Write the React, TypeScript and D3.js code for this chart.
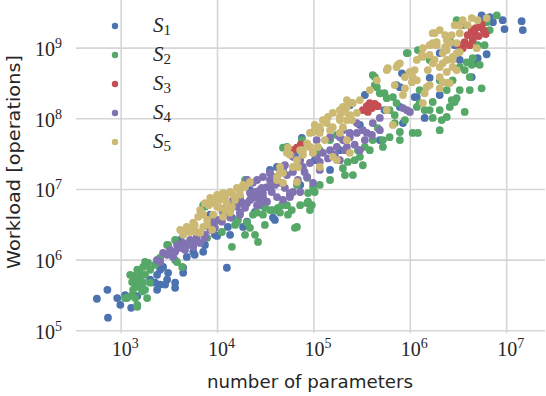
import React from 'react';
import * as d3 from 'd3';

const width = 546;
const height = 396;
const plot = { left: 76, right: 545, top: 0, bottom: 333 };

const seriesNames = ['1', '2', '3', '4', '5'];
const colors = ['#4C72B0', '#55A868', '#C44E52', '#8172B2', '#CCB974'];
const xTicks = [1e3, 1e4, 1e5, 1e6, 1e7];
const yTicks = [1e5, 1e6, 1e7, 1e8, 1e9];

// [number of parameters, workload]
const s1Points: [number, number][] = [
  [5.6e2, 2.84e5], [7.2e2, 3.8e5], [7.3e2, 1.53e5], [9.1e2, 2.9e5], [9.8e2, 2.33e5], [1.27e3, 2.11e5],
  [1.47e3, 3.1e5], [2.0e3, 5.3e5], [2.36e3, 6.2e5], [2.54e3, 7.3e5], [2.72e3, 8.0e5], [3.0e3, 5.3e5],
  [3.63e3, 4.8e5], [3.63e3, 4.05e5], [4.4e3, 7.8e5], [4.4e3, 6.6e5], [4.8e3, 1.11e6], [5.6e3, 1.31e6],
  [5.8e3, 1.19e6], [7.1e3, 1.31e6], [7.4e3, 1.64e6], [9.4e3, 2.28e6], [2.36e3, 3.8e5], [2.54e3, 4.5e5],
  [2.86e3, 4.5e5], [2.25e3, 4.8e5], [3.07e3, 6.6e5], [1.25e4, 7.8e5], [9.9e3, 2.2e6], [1.28e4, 2.95e6],
  [1.35e4, 2.28e6], [1.84e4, 2.95e6], [2.02e4, 3.5e6], [1.41e4, 4.0e6], [2.45e4, 4.8e6], [2.89e4, 6.0e6],
  [3.94e4, 3.7e6], [4.14e4, 5.1e6], [3.5e4, 1.89e7], [4.78e4, 1.89e7], [4.14e4, 2.08e7], [3.76e4, 4.0e6],
  [5.64e4, 8.4e6], [7.2e4, 1.16e7], [7.5e4, 5.35e7], [1.02e5, 2.6e7], [1.47e5, 1.89e7], [1.86e5, 3.6e7],
  [2.36e5, 1.56e8], [2.48e5, 1.67e8], [3.0e5, 8.2e7], [4.83e5, 5.0e7], [7.2e5, 3.0e8], [7.8e5, 2.8e8],
  [8.2e5, 4.4e8], [1.11e6, 2.03e8], [8.4e5, 8.7e7], [1.41e6, 1.03e8], [1.17e6, 2.03e8], [1.59e6, 3.8e8],
  [7.8e5, 1.47e8], [2.02e6, 8.5e8], [4.34e6, 3.9e8], [4.66e6, 6.1e8], [5.0e6, 7.2e8], [6.2e6, 8.2e8],
  [5.64e6, 2.75e9], [7.2e6, 2.33e9], [5.5e6, 2.9e9], [6.67e6, 2.75e9], [9.1e6, 2.49e9], [9.5e6, 1.86e9],
  [1.43e7, 2.41e9], [1.47e7, 1.8e9], [2.89e6, 1.1e9], [3.26e6, 6.8e8], [2.02e6, 2.17e8], [5.4e5, 1.33e8],
  [3.38e5, 2.17e8], [1.15e5, 6.9e7], [6.35e4, 3.1e7], [2.17e4, 9.8e6], [1.71e4, 7.1e6], [8.4e3, 4.4e6],
  [4.1e3, 1.93e6], [1.57e3, 4.5e5], [1.1e3, 3.2e5],
];

const s2Points: [number, number][] = [
  [1.24e3, 6.2e5], [1.3e3, 4.9e5], [1.47e3, 7.3e5], [1.57e3, 6.6e5], [1.5e3, 4.2e5], [1.69e3, 4.8e5],
  [1.77e3, 3.8e5], [1.4e3, 2.9e5], [1.15e3, 2.9e5], [1.47e3, 2.33e5], [1.86e3, 2.9e5], [1.9e3, 9.1e5],
  [1.77e3, 9.4e5], [1.57e3, 5.8e5], [1.3e3, 3.2e5], [1.65e3, 3.6e5], [1.33e3, 6.0e5], [1.18e3, 3.0e5],
  [1.1e3, 2.9e5], [1.47e3, 2.18e5], [2.0e3, 4.8e5], [2.36e3, 1.0e6], [1.69e3, 8.0e5], [1.86e3, 9.1e5],
  [3.0e3, 1.64e6], [3.63e3, 1.0e6], [4.3e3, 8.0e5], [3.8e3, 9.4e5], [1.5e3, 5.3e5], [1.33e3, 3.8e5],
  [1.4e3, 4.5e5], [1.77e3, 6.2e5], [2.0e3, 7.3e5], [2.25e3, 8.6e5], [2.54e3, 1.08e6],
  [3.07e3, 1.64e6], [3.63e3, 1.93e6], [7.8e3, 2.07e6], [1.11e4, 2.5e6], [1.41e4, 1.54e6], [1.63e4, 3.7e6],
  [2.02e4, 3.4e6], [2.17e4, 2.86e6], [2.45e4, 2.28e6], [2.57e4, 4.7e6], [2.96e4, 4.4e6], [3.1e4, 5.5e6],
  [4.24e4, 5.5e6], [2.02e4, 1.36e7], [7.1e3, 6.0e6], [1.59e4, 3.5e6], [2.63e4, 1.81e6], [4.66e4, 6.0e6],
  [5.38e4, 4.4e6], [6.35e4, 2.86e6], [7.2e4, 6.0e6], [8.5e4, 6.4e6], [9.5e4, 6.0e6], [9.1e4, 5.1e6],
  [8.7e4, 8.9e6], [1.02e5, 9.2e6], [4.45e4, 4.7e6], [1.93e4, 1.36e7], [5.25e4, 4.0e7], [6.67e4, 1.16e7],
  [8.7e4, 6.7e6], [2.0e5, 2.0e7], [2.25e5, 2.45e7], [2.86e5, 3.6e7], [3.38e5, 4.0e7], [3.22e5, 2.2e7],
  [5.25e4, 6.0e6], [3.76e4, 5.1e6], [2.75e4, 7.8e6], [2.33e4, 4.4e6], [7.4e3, 5.7e6], [4.78e4, 3.9e7],
  [7.5e4, 5.0e7], [8.5e4, 1.46e7], [9.8e4, 1.08e7], [6.67e4, 2.95e6], [1.52e4, 3.15e6], [1.47e5, 5.0e7],
  [1.73e5, 5.9e7], [1.15e5, 3.6e7], [2.54e5, 1.6e7],
  [9.4e3, 3.5e6], [1.93e4, 2.28e6], [3.1e4, 3.15e6], [3.5e4, 5.1e6], [5.9e4, 5.1e6], [1.15e5, 1.16e7],
  [1.47e5, 1.36e7], [2.1e5, 1.6e7], [2.65e5, 2.6e7], [3.8e5, 3.6e7], [4.6e5, 7.4e7], [6.9e5, 1.13e8],
  [8.8e5, 9.6e7], [1.41e6, 1.33e8], [3.26e6, 2.55e8], [4.14e6, 2.55e8], [5.25e6, 5.8e8], [5.9e6, 1.1e9],
  [6.67e6, 1.8e9],
  [4.08e5, 4.15e8], [4.29e5, 3.0e8], [4.83e5, 2.3e8], [5.7e5, 1.96e8], [9.2e5, 8.5e8], [6.1e5, 1.33e8],
  [6.9e5, 8.7e7], [6.1e5, 5.5e7], [7.8e5, 6.5e7], [1.17e6, 1.47e8], [1.71e6, 1.73e8], [2.02e6, 1.33e8],
  [2.12e6, 9.6e7], [2.39e6, 1.06e8], [2.89e6, 1.73e8], [2.02e6, 6.9e7], [1.2e6, 6.3e7], [1.71e6, 1.03e8],
  [3.67e6, 1.25e8], [2.57e6, 1.47e8], [4.08e5, 5.0e7], [3.0e5, 2.9e7], [5.2e5, 5.0e7], [1.25e6, 2.55e8],
  [7.9e6, 2.9e9], [5.5e6, 2.7e8], [4.14e6, 3.9e8], [4.34e6, 5.8e8], [3.85e6, 6.3e8], [3.26e6, 5.4e8],
  [2.75e6, 3.5e8], [2.39e6, 2.55e8], [9.4e5, 8.5e8], [1.2e6, 9.4e8], [3.03e6, 2.49e9], [4.45e6, 7.2e8],
  [3.67e6, 4.9e8], [2.02e6, 3.5e8], [2.45e6, 3.2e8], [2.69e6, 1.84e8], [3.03e6, 1.96e8], [1.06e6, 6.3e7],
  [4.29e5, 3.9e8], [4.5e5, 2.8e8], [5.4e5, 2.3e8], [6.6e5, 2.03e8], [7.2e5, 1.67e8], [1.25e6, 1.67e8],
  [1.59e6, 1.33e8], [7.8e5, 5.0e7], [5.2e5, 4.0e7], [5.0e6, 1.1e9], [4.14e6, 1.53e9], [6.2e6, 2.33e9],
  [3.5e6, 2.11e9], [2.57e6, 1.3e9], [1.59e6, 6.8e8],
];

const s3Points: [number, number][] = [
  [6.06e4, 3.6e7], [6.67e4, 3.9e7], [7.3e4, 4.3e7], [3.22e5, 1.33e8], [3.54e5, 1.51e8], [3.8e5, 1.67e8],
  [4.0e5, 1.42e8], [4.29e5, 1.62e8], [3.63e5, 1.25e8], [4.6e5, 1.51e8], [3.5e6, 1.0e9], [3.67e6, 1.22e9],
  [3.94e6, 1.53e9], [4.34e6, 1.8e9], [4.78e6, 1.92e9], [5.25e6, 1.98e9], [5.78e6, 1.8e9], [6.06e6, 1.58e9],
  [5.13e6, 1.48e9], [4.45e6, 1.3e9], [4.14e6, 1.1e9], [4.66e6, 1.63e9], [5.5e6, 2.18e9], [3.26e6, 1.1e9],
];

const s4Points: [number, number][] = [
  [2.72e3, 1.27e6], [3.22e3, 1.4e6], [3.8e3, 1.64e6], [4.4e3, 1.75e6], [5.2e3, 1.93e6], [6.1e3, 2.13e6],
  [3.46e3, 1.11e6], [4.6e3, 1.4e6], [5.6e3, 1.54e6], [6.6e3, 1.75e6], [2.36e3, 1.0e6], [3.0e3, 1.19e6],
  [4.1e3, 1.49e6], [4.9e3, 1.64e6], [7.4e3, 2.28e6], [8.4e3, 2.68e6], [8.8e3, 3.4e6], [9.9e3, 3.7e6],
  [1.71e4, 4.7e6], [1.84e4, 6.4e6], [2.17e4, 7.1e6], [2.57e4, 7.8e6], [2.75e4, 9.8e6], [3.26e4, 1.08e7],
  [3.5e4, 1.36e7], [4.14e4, 1.5e7], [2.33e4, 1.24e7], [2.17e4, 8.9e6], [1.59e4, 5.7e6], [1.71e4, 4.4e6],
  [2.02e4, 6.4e6], [2.33e4, 7.6e6], [2.57e4, 6.0e6], [3.26e4, 6.7e6], [2.96e4, 8.9e6], [4.14e4, 7.8e6],
  [4.78e4, 7.1e6], [5.64e4, 8.9e6], [6.06e4, 9.2e6], [2.02e4, 1.36e7], [2.96e4, 1.5e7], [3.5e4, 1.08e7],
  [3.76e4, 1.5e7], [4.45e4, 1.24e7], [5.25e4, 1.6e7], [6.06e4, 1.77e7], [7.7e4, 2.08e7], [9.1e4, 2.37e7],
  [1.07e5, 2.9e7], [1.24e5, 3.3e7], [1.47e5, 3.6e7], [1.73e5, 4.0e7], [2.0e5, 5.0e7], [2.36e5, 5.5e7],
  [2.79e5, 6.3e7], [3.22e5, 6.9e7], [8.5e4, 1.5e7], [9.8e4, 1.24e7], [7.2e4, 9.2e6], [5.64e4, 7.8e6],
  [2.96e4, 7.8e6], [6.06e4, 2.9e7], [1.07e5, 5.0e7], [1.47e5, 5.5e7], [1.86e5, 2.6e7], [2.0e5, 6.9e7],
  [2.79e5, 8.7e7], [3.54e5, 6.3e7], [4.08e5, 8.7e7], [4.83e5, 6.9e7], [3.0e5, 3.6e7], [2.2e5, 4.0e7],
  [9.2e5, 1.33e8], [9.9e5, 1.25e8], [8.4e5, 1.42e8], [4.83e5, 1.03e8], [2.57e4, 1.36e7], [3.5e4, 1.71e7],
  [9.8e4, 3.3e7], [1.86e5, 5.5e7], [2.36e5, 6.3e7], [8.4e3, 3.7e6], [1.25e4, 5.7e6], [1.45e4, 7.1e6],
  [1.71e4, 7.8e6], [1.14e4, 4.7e6], [1.35e4, 5.1e6], [7.2e4, 2.6e7], [1.15e5, 1.89e7], [2.54e3, 9.4e5],
  [3.63e3, 1.31e6], [4.6e3, 1.59e6], [5.8e3, 1.87e6], [7.4e3, 2.07e6], [9.4e3, 2.86e6], [1.11e4, 3.5e6],
  [1.35e4, 4.0e6], [1.93e4, 5.5e6], [2.45e4, 9.2e6], [2.89e4, 1.05e7], [3.65e4, 9.2e6], [5.0e4, 1.05e7],
  [6.82e4, 1.36e7], [8.0e4, 1.77e7], [1.15e5, 2.45e7], [1.4e5, 2.75e7], [1.65e5, 3.1e7], [2.1e5, 3.6e7],
  [2.65e5, 4.3e7], [3.38e5, 5.0e7], [4.0e5, 5.9e7], [7.2e4, 2.2e7], [5.0e4, 2.2e7], [3.94e4, 1.16e7],
  [2.75e4, 6.4e6], [1.2e4, 4.4e6], [8.1e3, 3.15e6],
];

const s5Points: [number, number][] = [
  [4.1e3, 2.68e6], [4.8e3, 2.95e6], [5.6e3, 3.4e6], [6.3e3, 4.1e6], [6.6e3, 5.1e6], [7.4e3, 6.4e6],
  [8.4e3, 7.6e6], [9.9e3, 8.4e6], [1.14e4, 8.9e6], [1.35e4, 9.2e6], [1.59e4, 1.05e7], [1.84e4, 1.16e7],
  [9.9e3, 5.7e6], [1.2e4, 5.1e6], [1.14e4, 4.1e6], [1.35e4, 4.7e6], [9.0e3, 4.4e6], [7.8e3, 3.7e6],
  [7.1e3, 2.95e6], [6.1e3, 2.5e6], [5.2e3, 2.5e6], [4.4e3, 2.28e6], [1.25e4, 6.4e6], [1.52e4, 7.1e6],
  [1.71e4, 8.4e6], [5.6e3, 2.95e6], [6.6e3, 2.43e6], [7.8e3, 3.15e6], [8.8e3, 2.68e6], [9.0e3, 7.1e6],
  [1.41e4, 5.7e6], [4.9e3, 2.68e6], [1.93e4, 1.08e7], [1.71e4, 9.8e6],
  [4.6e3, 2.5e6], [5.8e3, 3.15e6], [7.1e3, 4.4e6], [8.1e3, 6.0e6], [9.4e3, 6.4e6], [1.06e4, 7.1e6],
  [1.2e4, 7.8e6], [1.45e4, 8.4e6], [1.06e4, 5.5e6], [2.17e4, 1.28e7],
  [4.45e4, 2.08e7], [4.14e4, 1.5e7], [4.78e4, 1.71e7], [6.67e4, 2.6e7], [6.06e4, 2.08e7], [5.25e4, 3.3e7],
  [5.38e4, 3.9e7], [6.82e4, 2.08e7], [8.5e4, 4.5e7], [9.1e4, 6.3e7], [9.8e4, 6.5e7], [1.15e5, 6.3e7],
  [9.8e4, 3.3e7], [1.1e5, 4.0e7], [9.1e4, 4.0e7], [1.15e5, 2.08e7], [1.57e5, 2.9e7], [1.73e5, 2.6e7],
  [2.2e5, 5.0e7], [2.36e5, 3.3e7], [1.15e5, 7.6e7], [1.24e5, 9.6e7], [1.57e5, 1.21e8], [1.86e5, 1.33e8],
  [2.2e5, 1.47e8], [2.36e5, 1.13e8], [2.79e5, 1.21e8], [1.86e5, 9.6e7], [1.57e5, 7.6e7], [1.36e5, 8.7e7],
  [1.86e5, 6.3e7], [4.45e4, 1.77e7], [4.78e4, 1.24e7], [4.14e4, 1.36e7], [6.67e4, 1.28e7], [7.2e4, 3.6e7],
  [7.7e4, 3.1e7], [5.64e4, 3.1e7], [7.7e4, 3.6e7], [1.3e5, 5.0e7], [1.47e5, 6.9e7], [1.02e5, 8.2e7],
  [1.4e5, 1.06e8], [2.1e5, 1.25e8], [2.48e5, 9.6e7],
  [2.0e5, 1.47e8], [2.2e5, 1.84e8], [2.54e5, 1.67e8], [3.0e5, 1.84e8], [1.86e5, 1.06e8], [2.2e5, 9.6e7],
  [2.0e5, 7.6e7], [5.7e5, 1.33e8], [8.4e5, 2.17e8], [1.35e6, 1.67e8], [1.41e6, 2.3e8], [1.59e6, 3.0e8],
  [2.45e6, 3.2e8], [5.7e5, 4.9e8], [7.2e5, 5.4e8], [7.8e5, 6.1e8], [9.9e5, 4.6e8], [1.17e6, 3.5e8],
  [1.32e6, 8.0e8], [1.88e6, 1.1e9], [2.17e6, 8.5e8], [2.39e6, 6.8e8], [2.02e6, 5.4e8], [2.75e6, 7.5e8],
  [3.26e6, 8.8e8], [3.03e6, 4.9e8], [1.79e6, 1.63e9], [2.02e6, 1.8e9], [1.88e6, 1.22e9], [1.71e6, 1.18e9],
  [1.35e6, 1.0e9], [1.17e6, 6.8e8], [1.35e6, 7.5e8], [1.59e6, 8.0e8], [1.71e6, 6.1e8], [2.17e6, 6.1e8],
  [2.39e6, 9.4e8], [2.39e6, 1.3e9], [2.57e6, 1.18e9], [3.03e6, 1.18e9], [3.03e6, 8.5e8], [2.75e6, 6.8e8],
  [3.26e6, 1.63e9], [3.26e6, 2.11e9], [3.5e6, 2.49e9], [4.34e6, 2.66e9], [5.0e6, 2.49e9], [6.2e6, 2.66e9],
  [2.75e6, 5.4e8], [2.39e6, 4.6e8], [2.02e6, 3.9e8], [1.06e6, 3.9e8], [1.48e6, 2.8e8], [2.02e6, 2.7e8],
  [2.57e6, 3.2e8], [4.89e6, 1.0e9], [2.17e6, 3.3e8], [5.85e5, 5.2e8], [7.4e5, 5.8e8], [1.71e6, 1.63e9],
  [3.8e5, 2.55e8], [4.5e5, 3.5e8], [6.6e5, 8.2e7], [8.8e5, 3.9e8], [1.04e6, 3.3e8],
  [6.9e5, 3.0e8], [8.8e5, 2.7e8], [1.11e6, 4.9e8], [1.52e6, 4.9e8], [1.79e6, 6.8e8], [2.3e6, 1.03e9],
  [2.69e6, 1.53e9], [2.3e6, 1.53e9], [3.94e6, 2.11e9], [2.89e6, 2.11e9], [1.59e6, 1.1e9],
];

const allSeries = [s1Points, s2Points, s3Points, s4Points, s5Points];

const xScale = d3.scaleLog().domain([3.4e2, 2.5e7]).range([plot.left, plot.right]);
const yScale = d3.scaleLog().domain([9.3e4, 4.8e9]).range([plot.bottom, plot.top]);

const textColor = '#262626';
const gridColor = '#d6d6d6';
const serif = '"Liberation Serif", "DejaVu Serif", serif';
const sans = '"DejaVu Sans", sans-serif';

const Pow = ({ v }: { v: number }) => (
  <>
    10
    <tspan dy={-8} fontSize={14}>{Math.round(Math.log10(v))}</tspan>
  </>
);

export default function App() {
  return (
    <svg
      width={width}
      height={height}
      style={{ position: 'absolute', left: 0, top: 0, background: '#fff' }}
    >
      {/* grid */}
      <g stroke={gridColor} strokeWidth={1.6}>
        {xTicks.map((t) => (
          <line key={t} x1={xScale(t)} x2={xScale(t)} y1={plot.top} y2={plot.bottom} />
        ))}
        {yTicks.map((t) => (
          <line key={t} x1={plot.left} x2={plot.right} y1={yScale(t)} y2={yScale(t)} />
        ))}
      </g>

      {/* points */}
      {allSeries.map((pts, i) => (
        <g key={i} fill={colors[i]}>
          {pts.map((d, j) => (
            <circle key={j} cx={xScale(d[0])} cy={yScale(d[1])} r={3.9} />
          ))}
        </g>
      ))}

      {/* tick labels */}
      <g fill={textColor} fontFamily={serif} fontSize={20}>
        {xTicks.map((t) => (
          <text key={t} x={xScale(t) + 4} y={plot.bottom + 23} textAnchor="middle">
            <Pow v={t} />
          </text>
        ))}
        {yTicks.map((t) => (
          <text key={t} x={62} y={yScale(t) + 8} textAnchor="end">
            <Pow v={t} />
          </text>
        ))}
      </g>

      {/* axis labels */}
      <text
        x={310}
        y={388}
        textAnchor="middle"
        fontFamily={sans}
        fontSize={18}
        textLength={206}
        lengthAdjust="spacingAndGlyphs"
        fill={textColor}
      >
        number of parameters
      </text>
      <text
        transform={`translate(20, 162) rotate(-90)`}
        textAnchor="middle"
        fontFamily={sans}
        fontSize={18}
        textLength={214}
        lengthAdjust="spacingAndGlyphs"
        fill={textColor}
      >
        Workload [operations]
      </text>

      {/* legend */}
      {seriesNames.map((n, i) => (
        <g key={n} transform={`translate(115, ${26 + i * 29})`}>
          <circle r={3.2} fill={colors[i]} />
          <text x={38} y={6} fontFamily={serif} fontSize={21} fill={textColor}>
            <tspan fontStyle="italic">S</tspan>
            <tspan dy={3} fontSize={15}>{n}</tspan>
          </text>
        </g>
      ))}
    </svg>
  );
}
